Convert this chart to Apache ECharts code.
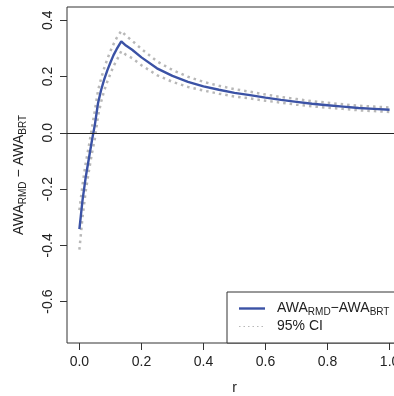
<!DOCTYPE html>
<html><head><meta charset="utf-8">
<script src="https://cdn.jsdelivr.net/npm/echarts@6/dist/echarts.min.js"></script>
<style>html,body{margin:0;padding:0;background:#fff}#c{width:394px;height:396px}</style>
</head><body><div id="c"></div>
<script>
const rVals   = [0, 0.01, 0.02, 0.03, 0.04, 0.05, 0.06, 0.07, 0.08, 0.09, 0.10, 0.11, 0.12, 0.135, 0.15, 0.17, 0.2, 0.25, 0.3, 0.35, 0.4, 0.45, 0.5, 0.55, 0.6, 0.65, 0.7, 0.75, 0.8, 0.85, 0.9, 0.95, 1.0];
const awaDiff = [-0.342, -0.24, -0.16, -0.095, -0.03, 0.03, 0.105, 0.152, 0.19, 0.222, 0.25, 0.276, 0.297, 0.325, 0.31, 0.295, 0.268, 0.229, 0.202, 0.181, 0.165, 0.153, 0.142, 0.134, 0.125, 0.117, 0.110, 0.103, 0.098, 0.093, 0.088, 0.085, 0.082];
const ciUpper = [-0.275, -0.185, -0.11, -0.05, 0.015, 0.08, 0.15, 0.193, 0.23, 0.262, 0.29, 0.315, 0.337, 0.362, 0.345, 0.327, 0.298, 0.254, 0.223, 0.199, 0.181, 0.167, 0.155, 0.146, 0.136, 0.127, 0.120, 0.112, 0.107, 0.101, 0.096, 0.093, 0.090];
const ciLower = [-0.415, -0.30, -0.21, -0.14, -0.075, -0.02, 0.06, 0.11, 0.15, 0.182, 0.21, 0.237, 0.257, 0.29, 0.277, 0.265, 0.24, 0.205, 0.181, 0.163, 0.150, 0.139, 0.129, 0.122, 0.114, 0.107, 0.100, 0.094, 0.089, 0.085, 0.080, 0.077, 0.074];
const xTicks = [0, 0.2, 0.4, 0.6, 0.8, 1.0];
const yTicks = [-0.6, -0.4, -0.2, 0, 0.2, 0.4];

const FONT = '"Liberation Sans", Arial, Helvetica, sans-serif';
const BLUE = '#3b52a5';
const GRAY = '#b8b8b8';
const pair = (ys) => rVals.map((r, i) => [r, ys[i]]);
const richStyle = {
  a: {fontFamily: FONT, fontSize: 14, lineHeight: 18, verticalAlign: 'middle'},
  s: {fontFamily: FONT, fontSize: 10, lineHeight: 18, verticalAlign: 'bottom'}
};

const chart = echarts.init(document.getElementById('c'), null, {renderer: 'canvas'});
const dotted = {color: GRAY, width: 2.5, type: [2.5, 4]};
chart.setOption({
  animation: false,
  grid: {left: 67, top: 7, width: 335, height: 336, show: true, borderColor: '#333', borderWidth: 1, backgroundColor: 'transparent', containLabel: false, outerBoundsMode: 'none'},
  xAxis: {
    type: 'value', min: -0.04, max: 1.04,
    axisLine: {show: false, onZero: false},
    splitLine: {show: false},
    axisTick: {show: true, inside: false, length: 7, lineStyle: {color: '#333'}, customValues: xTicks},
    axisLabel: {customValues: xTicks, formatter: v => v.toFixed(1), fontFamily: FONT, fontSize: 14, color: '#222', margin: 12},
    name: 'r', nameLocation: 'middle', nameGap: 38,
    nameTextStyle: {fontFamily: FONT, fontSize: 14, color: '#222'}
  },
  yAxis: {
    type: 'value', min: -0.747, max: 0.447,
    axisLine: {show: false, onZero: false},
    splitLine: {show: false},
    axisTick: {show: true, inside: false, length: 7, lineStyle: {color: '#333'}, customValues: yTicks},
    axisLabel: {customValues: yTicks, formatter: v => v.toFixed(1), fontFamily: FONT, fontSize: 14, color: '#222', margin: 12, rotate: 90}
  },
  series: [
    {type: 'line', data: pair(ciUpper), showSymbol: false, lineStyle: dotted, z: 2},
    {type: 'line', data: pair(ciLower), showSymbol: false, lineStyle: dotted, z: 2},
    {type: 'line', data: pair(awaDiff), showSymbol: false, lineStyle: {color: BLUE, width: 2.4}, z: 3,
      markLine: {silent: true, symbol: ['none', 'none'], label: {show: false}, lineStyle: {color: '#222', width: 1, type: 'solid'}, data: [{yAxis: 0}]}}
  ],
  graphic: [
    {type: 'text', x: 19, y: 175, rotation: Math.PI / 2, z: 10,
      style: {text: '{a|AWA}{s|RMD}{a| \u2212 AWA}{s|BRT}', align: 'center', verticalAlign: 'middle', fill: '#222', rich: richStyle}},
    {type: 'rect', shape: {x: 227, y: 292, width: 175, height: 51}, z: 20,
      style: {fill: '#fff', stroke: '#333', lineWidth: 1}},
    {type: 'line', shape: {x1: 239, y1: 308.5, x2: 265, y2: 308.5}, z: 21, style: {stroke: BLUE, lineWidth: 2.4}},
    {type: 'line', shape: {x1: 239, y1: 326.5, x2: 265, y2: 326.5}, z: 21, style: {stroke: GRAY, lineWidth: 1.2, lineDash: [1.5, 3]}},
    {type: 'text', x: 277, y: 308.5, z: 21,
      style: {text: '{a|AWA}{s|RMD}{a|\u2212AWA}{s|BRT}', align: 'left', verticalAlign: 'middle', fill: '#222', rich: richStyle}},
    {type: 'text', x: 277, y: 326.5, z: 21,
      style: {text: '95% CI', align: 'left', verticalAlign: 'middle', fill: '#222', font: '14px ' + FONT}}
  ]
});
</script></body></html>
